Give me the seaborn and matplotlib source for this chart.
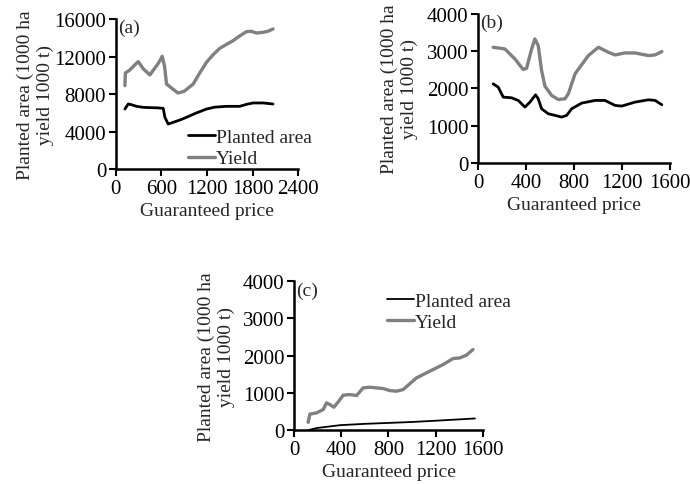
import numpy as np
import pandas as pd
import matplotlib
matplotlib.use("Agg")
import matplotlib.pyplot as plt
import seaborn as sns

# Panel (a)
a_yield_x = [118, 125, 180, 260, 294, 360, 447, 560, 610, 640, 667, 754, 820, 900, 1018, 1100, 1193, 1280, 1368, 1456, 1544, 1630, 1719, 1780, 1851, 1939, 2000, 2070]
a_yield_y = [8900, 10250, 10550, 11200, 11460, 10700, 10040, 11300, 12030, 11000, 9070, 8500, 8110, 8300, 9070, 10200, 11390, 12200, 12880, 13300, 13700, 14200, 14660, 14700, 14520, 14590, 14700, 14950]
a_area_x = [118, 162, 210, 272, 360, 450, 540, 623, 645, 689, 754, 850, 930, 1050, 1193, 1300, 1456, 1632, 1720, 1807, 1939, 2070]
a_area_y = [6400, 6940, 6850, 6690, 6580, 6550, 6530, 6480, 5520, 4800, 4980, 5250, 5520, 5950, 6400, 6600, 6690, 6690, 6900, 7050, 7050, 6940]

# Panel (b)
b_yield_x = [125, 223, 306, 376, 404, 446, 473, 501, 529, 557, 613, 668, 724, 752, 808, 919, 1003, 1086, 1142, 1225, 1309, 1420, 1476, 1532]
b_yield_y = [3107, 3062, 2795, 2509, 2545, 3062, 3330, 3152, 2482, 2062, 1812, 1705, 1723, 1857, 2393, 2884, 3107, 2973, 2902, 2955, 2955, 2884, 2902, 2991]
b_area_x = [125, 167, 209, 278, 334, 390, 432, 479, 501, 529, 585, 641, 696, 738, 780, 863, 975, 1058, 1142, 1197, 1309, 1420, 1476, 1532]
b_area_y = [2125, 2036, 1768, 1750, 1679, 1500, 1634, 1830, 1723, 1455, 1321, 1277, 1232, 1277, 1455, 1607, 1679, 1679, 1545, 1527, 1634, 1696, 1679, 1563]

# Panel (c)
c_yield_x = [120, 135, 192, 248, 276, 304, 338, 375, 417, 473, 530, 586, 642, 755, 811, 868, 924, 1037, 1149, 1262, 1346, 1403, 1459, 1515]
c_yield_y = [210, 430, 465, 555, 733, 689, 617, 760, 939, 957, 930, 1136, 1154, 1118, 1064, 1047, 1091, 1404, 1583, 1762, 1923, 1941, 2013, 2165]
c_area_x = [120, 200, 390, 600, 813, 1000, 1178, 1400, 1532]
c_area_y = [0, 60, 134, 170, 196, 220, 250, 290, 314]

panels = [
    ("(a)", a_area_x, a_area_y, a_yield_x, a_yield_y, 2400, 600, 16000, 4000),
    ("(b)", b_area_x, b_area_y, b_yield_x, b_yield_y, 1600, 400, 4000, 1000),
    ("(c)", c_area_x, c_area_y, c_yield_x, c_yield_y, 1600, 400, 4000, 1000),
]
# axes boxes in figure fractions and the ylabel offset (px left of the axis)
positions = [
    [0.168, 0.6495, 0.264, 0.309],
    [0.693, 0.662, 0.278, 0.307],
    [0.426, 0.111, 0.274, 0.307],
]
label_offsets = [62, 60, 59]
area_widths = [2.0, 2.0, 1.3]

TICK_FS = 15
FS = 14

sns.set_style("ticks")
plt.rcParams["font.family"] = ["Liberation Serif", "DejaVu Serif"]
plt.rcParams["font.size"] = FS

fig = plt.figure(figsize=(6.9, 4.85), dpi=100)

for (tag, ax_x, ax_y, yx, yy, xmax, xstep, ymax, ystep), pos, off, aw in zip(
        panels, positions, label_offsets, area_widths):
    ax = fig.add_axes(pos)
    sns.lineplot(x=ax_x, y=ax_y, color="black", linewidth=aw, ax=ax, sort=False, label="Planted area")
    sns.lineplot(x=yx, y=yy, color="#808080", linewidth=2.4, ax=ax, sort=False, label="Yield")
    ax.set_xlim(0, xmax)
    ax.set_ylim(0, ymax)
    ax.set_xticks(np.arange(0, xmax + 1, xstep))
    ax.set_yticks(np.arange(0, ymax + 1, ystep))
    sns.despine(ax=ax)
    for s in ["left", "bottom"]:
        ax.spines[s].set_linewidth(1.8)
        ax.spines[s].set_color("black")
    ax.tick_params(direction="out", length=5, width=1.5, labelsize=TICK_FS, pad=2, colors="black")
    ax.set_xlabel("Guaranteed price", fontsize=FS, labelpad=3)
    ax.set_ylabel("Planted area (1000 ha\nyield 1000 t)", fontsize=FS, linespacing=1.2)
    ax.yaxis.set_label_coords(-off / (pos[2] * 690), 0.5)
    ax.text(0.01, 1.0, tag, transform=ax.transAxes, ha="left", va="top", fontsize=FS)
    if tag == "(a)":
        ax.legend(frameon=False, loc="lower left", bbox_to_anchor=(0.32, -0.08), fontsize=FS,
                  handlelength=1.4, handletextpad=0.05, labelspacing=0.2, borderpad=0.2)
    elif tag == "(c)":
        ax.legend(frameon=False, loc="upper left", bbox_to_anchor=(0.418, 1.02), fontsize=FS,
                  handlelength=1.4, handletextpad=0.05, labelspacing=0.2, borderpad=0.2)
    else:
        ax.get_legend().remove()

fig.savefig("out.png", dpi=100)
